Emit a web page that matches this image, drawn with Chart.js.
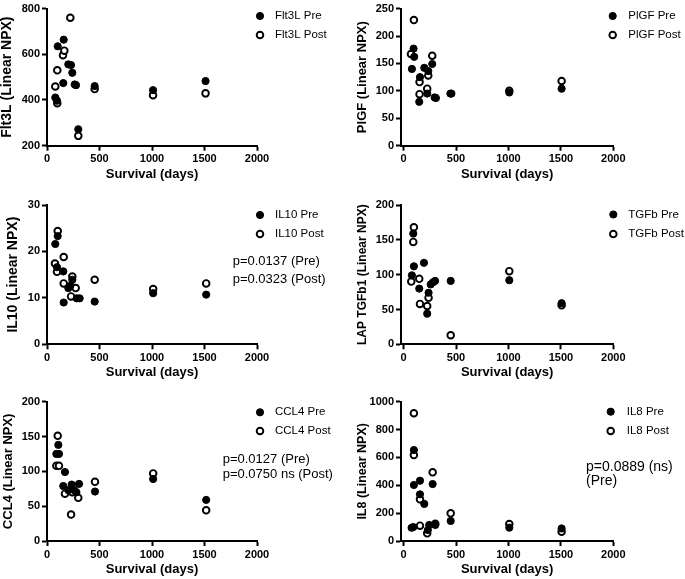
<!DOCTYPE html>
<html><head><meta charset="utf-8">
<script src="https://cdn.jsdelivr.net/npm/chart.js@4/dist/chart.umd.min.js"></script>
<style>
html,body{margin:0;padding:0;background:#fff;}
#wrap{position:relative;width:685px;height:579px;overflow:hidden;}
#wrap canvas{position:absolute;left:0;top:0;}
</style></head><body>
<div id="wrap">
<canvas id="c1" width="685" height="579"></canvas>
<canvas id="c2" width="685" height="579"></canvas>
<canvas id="c3" width="685" height="579"></canvas>
<canvas id="c4" width="685" height="579"></canvas>
<canvas id="c5" width="685" height="579"></canvas>
<canvas id="c6" width="685" height="579"></canvas>
</div>
<script>
// ---- tick labels ----
const xTicks = [0, 500, 1000, 1500, 2000];
const flt3lTicks = [200, 400, 600, 800];
const plgfTicks = [0, 50, 100, 150, 200, 250];
const il10Ticks = [0, 10, 20, 30];
const tgfbTicks = [0, 50, 100, 150, 200];
const ccl4Ticks = [0, 50, 100, 150, 200];
const il8Ticks = [0, 200, 400, 600, 800, 1000];

// ---- series: [survival days, linear NPX] ----
const flt3lPre = [[79,411],[95,397],[102,635],[155,474],[159,664],[203,556],[229,553],[241,519],[264,468],[276,465],[298,272],[454,461],[1010,443],[1510,483]];
const flt3lPost = [[79,459],[98,530],[98,386],[152,596],[165,616],[222,760],[298,243],[454,448],[1010,421],[1510,429]];

const plgfPre = [[79,140],[95,177],[101,162],[149,80],[156,125],[197,142],[225,95],[235,136],[273,149],[296,88],[308,87],[446,95],[456,95],[1008,97],[1507,104]];
const plgfPost = [[70,167],[98,229],[152,116],[152,94],[225,104],[235,128],[273,164],[1008,100],[1507,118]];

const il10Pre = [[79,21.6],[95,16.6],[102,23.3],[155,15.7],[159,9.0],[203,12.1],[222,12.6],[241,13.9],[283,9.9],[311,9.9],[454,9.2],[1011,11.0],[1516,10.7]];
const il10Post = [[76,17.4],[95,15.6],[102,24.4],[159,18.8],[159,13.1],[229,10.3],[241,14.6],[273,12.1],[454,13.9],[1011,11.9],[1516,13.1]];

const tgfbPre = [[79,99],[92,159],[98,112],[149,80],[194,117],[225,44],[238,74],[258,86],[280,89],[300,91],[449,91],[1008,92],[1507,59]];
const tgfbPost = [[73,90],[92,147],[98,168],[149,94],[156,58],[225,55],[238,67],[449,13],[1008,105],[1507,56]];

const ccl4Pre = [[89,125],[108,138],[114,125],[155,79],[171,99],[203,73],[235,81],[260,73],[280,70],[305,82],[457,71],[1011,89],[1516,59]];
const ccl4Post = [[89,108],[102,151],[114,108],[171,68],[240,70],[229,38],[298,62],[457,85],[1011,97],[1516,44]];

const il8Pre = [[76,95],[92,100],[98,653],[98,402],[156,433],[156,335],[197,266],[231,79],[244,115],[277,409],[302,115],[449,144],[1008,96],[1507,90]];
const il8Post = [[98,917],[98,617],[156,299],[156,110],[225,55],[277,493],[302,124],[449,199],[1008,122],[1507,67]];

// ---- p-value notes ----
const il10Notes = ['p=0.0137 (Pre)', 'p=0.0323 (Post)'];
const ccl4Notes = ['p=0.0127 (Pre)', 'p=0.0750 ns (Post)'];
const il8Notes = ['p=0.0889 (ns)', '(Pre)'];

const FONT = "'Liberation Sans', Arial, Helvetica, sans-serif";
Chart.defaults.font.family = FONT;
Chart.defaults.color = '#000';

function toPts(arr){ return arr.map(p => ({x: p[0], y: p[1]})); }

function makePanel(id, c) {
  const lhY = c.yTitleSize * 1.2;
  const xTitleSize = 13, lhX = xTitleSize * 1.2;
  const yW = c.area.l - (c.yTitleCX - lhY / 2);
  const xH = (c.xTitleCY + lhX / 2) - c.area.b;
  const textPlugin = {
    id: 'panelText' + id,
    afterDraw(chart) {
      const ctx = chart.ctx;
      ctx.save();
      chart.data.datasets.forEach((ds, i) => {
        const y = c.legend.y[i];
        ctx.beginPath();
        ctx.arc(c.legend.mx, y, ds.pointRadius, 0, Math.PI * 2);
        ctx.fillStyle = ds.backgroundColor; ctx.fill();
        ctx.lineWidth = ds.borderWidth; ctx.strokeStyle = ds.borderColor; ctx.stroke();
        ctx.fillStyle = '#000';
        ctx.font = '11.5px ' + FONT;
        ctx.textAlign = 'left'; ctx.textBaseline = 'middle';
        ctx.fillText(ds.label, c.legend.tx, y);
      });
      if (c.notes) {
        ctx.font = c.notes.size + 'px ' + FONT;
        ctx.fillStyle = '#000';
        ctx.textAlign = 'left'; ctx.textBaseline = 'middle';
        c.notes.lines.forEach((t, i) => ctx.fillText(t, c.notes.x, c.notes.y[i]));
      }
      ctx.restore();
    }
  };
  const gridOpts = {drawOnChartArea: false, drawTicks: true, tickLength: 5, tickWidth: 2, tickColor: '#000'};
  const borderOpts = {display: true, color: '#000', width: 2};
  const tickFont = {size: 11, weight: 'bold'};
  new Chart(document.getElementById(id), {
    type: 'scatter',
    data: {datasets: [
      {label: c.name + ' Pre', data: toPts(c.pre), pointStyle: 'circle', pointRadius: 3.6, pointHoverRadius: 3.6,
       backgroundColor: '#000', borderColor: '#000', borderWidth: 1},
      {label: c.name + ' Post', data: toPts(c.post), pointStyle: 'circle', pointRadius: 3.3, pointHoverRadius: 3.3,
       backgroundColor: '#fff', borderColor: '#000', borderWidth: 1.9}
    ]},
    options: {
      responsive: false, animation: false, devicePixelRatio: 1, events: [],
      layout: {padding: {left: c.area.l - yW, top: c.area.t, right: 685 - c.area.r, bottom: 579 - c.area.b - xH}},
      plugins: {legend: {display: false}, tooltip: {enabled: false}},
      scales: {
        x: {type: 'linear', min: c.xMin, max: 2000,
            afterBuildTicks: s => { s.ticks = xTicks.map(v => ({value: v})); },
            afterFit: s => { s.height = xH; },
            grid: gridOpts, border: borderOpts,
            ticks: {font: tickFont, color: '#000', padding: 2, maxRotation: 0, autoSkip: false, callback: v => String(v)},
            title: {display: true, text: 'Survival (days)', color: '#000', font: {size: xTitleSize, weight: 'bold'}, padding: {top: 0, bottom: 0}}},
        y: {type: 'linear', min: c.yTicks[0], max: c.yTicks[c.yTicks.length - 1],
            afterBuildTicks: s => { s.ticks = c.yTicks.map(v => ({value: v})); },
            afterFit: s => { s.width = yW; },
            grid: gridOpts, border: borderOpts,
            ticks: {font: tickFont, color: '#000', padding: 2, autoSkip: false, callback: v => String(v)},
            title: {display: true, text: c.yTitle, color: '#000', font: {size: c.yTitleSize, weight: 'bold'}, padding: {top: 0, bottom: 0}}}
      }
    },
    plugins: [textPlugin]
  });
}

const L = {l: 47, r: 257}, R = {l: 401, r: 613.3};
const rows = [{t: 6.7, b: 145.7, xt: 174}, {t: 205, b: 344.3, xt: 372.7}, {t: 401.7, b: 541, xt: 569.3}];

makePanel('c1', {name: 'Flt3L', pre: flt3lPre, post: flt3lPost, yTicks: flt3lTicks, yTitle: 'Flt3L (Linear NPX)', yTitleSize: 14,
  area: {l: L.l, r: L.r, t: rows[0].t, b: rows[0].b}, xMin: 0, yTitleCX: 7.5, xTitleCY: rows[0].xt,
  legend: {mx: 260, tx: 275, y: [16, 35]}});
makePanel('c2', {name: 'PlGF', pre: plgfPre, post: plgfPost, yTicks: plgfTicks, yTitle: 'PlGF (Linear NPX)', yTitleSize: 13,
  area: {l: R.l, r: R.r, t: rows[0].t, b: rows[0].b}, xMin: -25, yTitleCX: 362.5, xTitleCY: rows[0].xt,
  legend: {mx: 612.7, tx: 628.3, y: [16, 35]}});
makePanel('c3', {name: 'IL10', pre: il10Pre, post: il10Post, yTicks: il10Ticks, yTitle: 'IL10 (Linear NPX)', yTitleSize: 14,
  area: {l: L.l, r: L.r, t: rows[1].t, b: rows[1].b}, xMin: 0, yTitleCX: 12.7, xTitleCY: rows[1].xt,
  legend: {mx: 260, tx: 275, y: [215, 234]},
  notes: {lines: il10Notes, x: 232.7, y: [261.7, 279.3], size: 13}});
makePanel('c4', {name: 'TGFb', pre: tgfbPre, post: tgfbPost, yTicks: tgfbTicks, yTitle: 'LAP TGFb1 (Linear NPX)', yTitleSize: 12,
  area: {l: R.l, r: R.r, t: rows[1].t, b: rows[1].b}, xMin: -25, yTitleCX: 362.5, xTitleCY: rows[1].xt,
  legend: {mx: 613.3, tx: 628.3, y: [214.5, 234]}});
makePanel('c5', {name: 'CCL4', pre: ccl4Pre, post: ccl4Post, yTicks: ccl4Ticks, yTitle: 'CCL4 (Linear NPX)', yTitleSize: 13,
  area: {l: L.l, r: L.r, t: rows[2].t, b: rows[2].b}, xMin: 0, yTitleCX: 8.3, xTitleCY: rows[2].xt,
  legend: {mx: 260, tx: 275, y: [412.3, 431]},
  notes: {lines: ccl4Notes, x: 222.7, y: [459.3, 474.3], size: 13}});
makePanel('c6', {name: 'IL8', pre: il8Pre, post: il8Post, yTicks: il8Ticks, yTitle: 'IL8 (Linear NPX)', yTitleSize: 12.5,
  area: {l: R.l, r: R.r, t: rows[2].t, b: rows[2].b}, xMin: -25, yTitleCX: 362.8, xTitleCY: rows[2].xt,
  legend: {mx: 610.7, tx: 626.7, y: [411.7, 431]},
  notes: {lines: il8Notes, x: 586, y: [467.3, 480.7], size: 14}});
</script>
</body></html>
